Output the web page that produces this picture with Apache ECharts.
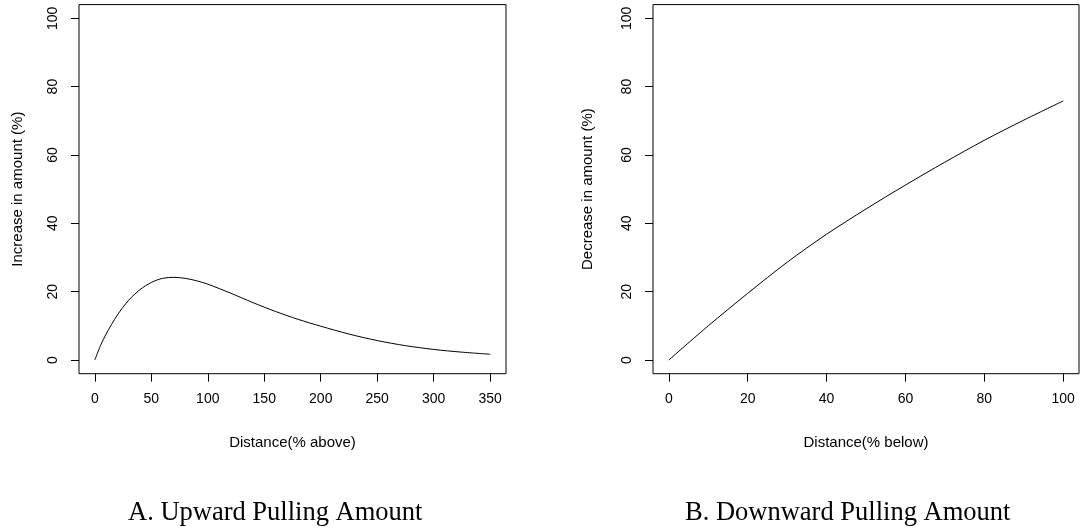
<!DOCTYPE html>
<html>
<head>
<meta charset="utf-8">
<script src="https://cdn.jsdelivr.net/npm/echarts@6/dist/echarts.min.js"></script>
<style>
html,body{margin:0;padding:0;background:#fff;}
#chart{width:1082px;height:529px;}
</style>
</head>
<body>
<div id="chart"></div>
<script>
// Panel A: upward pulling amount
const upX = [0, 5, 10, 20, 30, 40, 50, 60, 70, 80, 90, 100, 120, 140, 160, 180, 200, 225, 250, 275, 300, 325, 350];
const upY = [0, 4.2, 7.6, 13.2, 17.5, 20.6, 22.7, 23.9, 24.2, 23.9, 23.2, 22.2, 19.6, 16.8, 14.2, 11.9, 9.9, 7.6, 5.7, 4.2, 3.1, 2.3, 1.7];
// Panel B: downward pulling amount
const downX = [0, 10, 20, 30, 40, 50, 60, 70, 80, 90, 100];
const downY = [0, 10.0, 19.5, 28.6, 36.8, 44.2, 51.2, 57.9, 64.3, 70.2, 75.8];
// Tick labels
const upXTicks = [0, 50, 100, 150, 200, 250, 300, 350];
const downXTicks = [0, 20, 40, 60, 80, 100];
const yTicks = [0, 20, 40, 60, 80, 100];
const titles = ['Increase in amount (%)', 'Decrease in amount (%)'];
const xNames = ['Distance(% above)', 'Distance(% below)'];
const captions = ['A. Upward Pulling Amount', 'B. Downward Pulling Amount'];

const sans = 'Liberation Sans, Arial, sans-serif';
const serif = 'Liberation Serif, Times New Roman, serif';

function xAxisDef(idx, min, max, ticks, name) {
  return {
    type: 'value', gridIndex: idx, min: min, max: max,
    name: name, nameLocation: 'middle', nameGap: 62,
    nameTextStyle: {fontFamily: sans, fontSize: 15, color: '#000'},
    axisLine: {show: false, onZero: false},
    splitLine: {show: false},
    axisTick: {show: true, length: 8, customValues: ticks, lineStyle: {color: '#000', width: 1}},
    axisLabel: {customValues: ticks, fontFamily: sans, fontSize: 14, color: '#000', margin: 18}
  };
}
function yAxisDef(idx, name, gap) {
  return {
    type: 'value', gridIndex: idx, min: -4, max: 104,
    name: name, nameLocation: 'middle', nameGap: gap,
    nameTextStyle: {fontFamily: sans, fontSize: 15, color: '#000'},
    axisLine: {show: false, onZero: false},
    splitLine: {show: false},
    axisTick: {show: true, length: 8, customValues: yTicks, lineStyle: {color: '#000', width: 1}},
    axisLabel: {customValues: yTicks, rotate: 90, fontFamily: sans, fontSize: 14, color: '#000', margin: 19}
  };
}

const chart = echarts.init(document.getElementById('chart'), null, {renderer: 'canvas'});
chart.setOption({
  animation: false,
  backgroundColor: '#fff',
  grid: [
    {left: 79, right: 576, top: 4.6, bottom: 155.3, show: true, borderColor: '#000', borderWidth: 1, backgroundColor: 'transparent'},
    {left: 653, right: 3, top: 4.6, bottom: 155.3, show: true, borderColor: '#000', borderWidth: 1, backgroundColor: 'transparent'}
  ],
  xAxis: [
    xAxisDef(0, -14, 364, upXTicks, xNames[0]),
    xAxisDef(1, -4, 104, downXTicks, xNames[1])
  ],
  yAxis: [
    yAxisDef(0, titles[0], 54),
    yAxisDef(1, titles[1], 58)
  ],
  series: [
    {type: 'line', xAxisIndex: 0, yAxisIndex: 0, data: upX.map((x, i) => [x, upY[i]]),
     showSymbol: false, smooth: 0.3, lineStyle: {color: '#000', width: 1}},
    {type: 'line', xAxisIndex: 1, yAxisIndex: 1, data: downX.map((x, i) => [x, downY[i]]),
     showSymbol: false, smooth: 0.3, lineStyle: {color: '#000', width: 1}}
  ],
  graphic: [
    {type: 'text', left: 128, top: 500, style: {text: captions[0], font: '26.5px ' + serif, fill: '#000'}},
    {type: 'text', left: 685, top: 500, style: {text: captions[1], font: '26.5px ' + serif, fill: '#000'}}
  ]
});
</script>
</body>
</html>
